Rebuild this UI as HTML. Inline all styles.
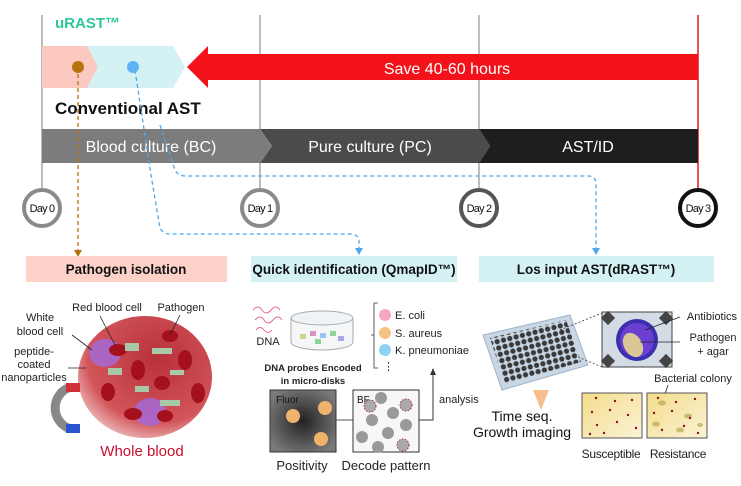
<!DOCTYPE html>
<html><head><meta charset="utf-8"><style>
html,body{margin:0;padding:0;background:#fff}
svg{display:block;font-family:"Liberation Sans","Noto Sans CJK KR",sans-serif}
</style></head><body>
<svg width="741" height="486" viewBox="0 0 741 486" xmlns="http://www.w3.org/2000/svg">
<defs>
<radialGradient id="blood" cx="0.6" cy="0.35" r="0.75"><stop offset="0" stop-color="#b8303a"/><stop offset="0.7" stop-color="#d2555a"/><stop offset="1" stop-color="#f4d6d4"/></radialGradient>
<radialGradient id="fluor" cx="0.5" cy="0.5" r="0.6"><stop offset="0" stop-color="#222"/><stop offset="1" stop-color="#7a7a7a"/></radialGradient>
<linearGradient id="agar" x1="0" y1="0" x2="1" y2="1"><stop offset="0" stop-color="#f3dc8a"/><stop offset="1" stop-color="#fbf3d6"/></linearGradient>
<pattern id="wells" width="6.5" height="6.5" patternUnits="userSpaceOnUse" patternTransform="rotate(-14)"><rect width="6.5" height="6.5" fill="#c9d6e4"/><circle cx="3.25" cy="3.25" r="2.6" fill="#3a3a3a"/></pattern>
</defs>
<g stroke="#999" stroke-width="1.3">
<line x1="42" y1="15" x2="42" y2="188"/><line x1="260" y1="15" x2="260" y2="188"/><line x1="479" y1="15" x2="479" y2="188"/>
</g>
<line x1="698" y1="15" x2="698" y2="188" stroke="#e8141c" stroke-width="1.5"/>
<text x="55" y="28" font-size="15" font-weight="bold" fill="#2cc79a">uRAST™</text>
<polygon points="42,46 87,46 98,67 87,88 42,88" fill="#fcc9c0"/>
<polygon points="87,46 173,46 185,67 173,88 87,88 98,67" fill="#d4f1f4"/>
<polygon points="187,67 208,46 208,54 698,54 698,80 208,80 208,88" fill="#f3121a"/>
<text x="447" y="74" font-size="16" fill="#fff" text-anchor="middle">Save 40-60 hours</text>
<text x="55" y="114" font-size="17" font-weight="bold" fill="#111">Conventional AST</text>
<polygon points="479,129 698,129 698,163 479,163 490,146" fill="#1e1e1e"/>
<polygon points="260,129 479,129 490,146 479,163 260,163 272,146" fill="#4b4b4b"/>
<polygon points="42,129 260,129 272,146 260,163 42,163" fill="#7c7c7c"/>
<text x="151" y="152" font-size="16" fill="#fff" text-anchor="middle">Blood culture (BC)</text>
<text x="370" y="152" font-size="16" fill="#fff" text-anchor="middle">Pure culture (PC)</text>
<text x="588" y="152" font-size="16" fill="#fff" text-anchor="middle">AST/ID</text>
<g fill="none" stroke-dasharray="4,3" stroke-width="1.3">
<path d="M78,67 V253" stroke="#b5720f"/>
<path d="M135,70 L151,175 L160,228 Q163,234 170,234 H350 Q358,234 359,240 V250" stroke="#4ea7ea"/>
<path d="M160,125 L175,170 Q178,176 186,176 H588 Q595,176 596,182 V250" stroke="#4ea7ea"/>
</g>
<polygon points="74,250 82,250 78,257" fill="#b5720f"/>
<polygon points="355,248 363,248 359,255" fill="#4ea7ea"/>
<polygon points="592,248 600,248 596,255" fill="#4ea7ea"/>
<circle cx="78" cy="67" r="6" fill="#b5720f"/>
<circle cx="133" cy="67" r="6" fill="#5fb3f5"/>
<g font-size="11" text-anchor="middle" fill="#111">
<circle cx="42" cy="208" r="18" fill="#fff" stroke="#8a8a8a" stroke-width="4"/><text x="42" y="212" letter-spacing="-0.8">Day 0</text>
<circle cx="260" cy="208" r="18" fill="#fff" stroke="#8a8a8a" stroke-width="4"/><text x="260" y="212" letter-spacing="-0.8">Day 1</text>
<circle cx="479" cy="208" r="18" fill="#fff" stroke="#555" stroke-width="4"/><text x="479" y="212" letter-spacing="-0.8">Day 2</text>
<circle cx="698" cy="208" r="18" fill="#fff" stroke="#111" stroke-width="4"/><text x="698" y="212" letter-spacing="-0.8">Day 3</text>
</g>
<rect x="26" y="256" width="201" height="26" fill="#fdd1c7"/>
<rect x="251" y="256" width="206" height="26" fill="#d4f1f4"/>
<rect x="479" y="256" width="235" height="26" fill="#d4f1f4"/>
<g font-size="13.5" font-weight="bold" fill="#111" text-anchor="middle">
<text x="126" y="274">Pathogen isolation</text>
<text x="354" y="274">Quick identification (QmapID™)</text>
<text x="596" y="274">Los input AST(dRAST™)</text>
</g>
<ellipse cx="145" cy="377" rx="67" ry="61" fill="url(#blood)"/>
<ellipse cx="105" cy="353" rx="16" ry="14" fill="#a46ad6" opacity="0.85"/>
<ellipse cx="150" cy="412" rx="16" ry="14" fill="#a46ad6" opacity="0.85"/>
<g fill="#a5101d">
<ellipse cx="118" cy="350" rx="9" ry="6"/><ellipse cx="170" cy="336" rx="8" ry="6"/><ellipse cx="185" cy="360" rx="7" ry="10"/>
<ellipse cx="138" cy="370" rx="7" ry="10"/><ellipse cx="162" cy="383" rx="8" ry="7"/><ellipse cx="108" cy="392" rx="7" ry="9"/>
<ellipse cx="198" cy="393" rx="7" ry="10"/><ellipse cx="133" cy="414" rx="9" ry="6"/><ellipse cx="165" cy="416" rx="8" ry="6"/>
</g>
<g fill="#a8c9a8"><rect x="125" y="343" width="14" height="8"/><rect x="152" y="348" width="20" height="6"/><rect x="108" y="368" width="14" height="7"/><rect x="135" y="386" width="14" height="6"/><rect x="170" y="370" width="14" height="5"/><rect x="160" y="400" width="20" height="6"/></g>
<path d="M68,388 a22,22 0 0 0 0,40" fill="none" stroke="#888" stroke-width="9"/>
<rect x="66" y="383" width="14" height="9" fill="#d0303a"/><rect x="66" y="424" width="14" height="9" fill="#2b55d0"/>
<g font-size="11" fill="#222" text-anchor="middle">
<text x="107" y="311">Red blood cell</text><text x="181" y="311">Pathogen</text>
<text x="40" y="321">White</text><text x="40" y="335">blood cell</text>
<text x="34" y="355">peptide-</text><text x="34" y="368">coated</text><text x="34" y="381">nanoparticles</text>
</g>
<g stroke="#222" stroke-width="0.8"><line x1="72" y1="335" x2="92" y2="350"/><line x1="100" y1="316" x2="115" y2="345"/><line x1="180" y1="315" x2="170" y2="335"/><line x1="68" y1="368" x2="86" y2="368"/></g>
<text x="142" y="456" font-size="15" fill="#c8102e" text-anchor="middle">Whole blood</text>
<path d="M253,310 q5,-6 9,0 t9,0 t9,0 M255,320 q5,-6 9,0 t9,0 t9,0 M256,330 q4,-5 8,0 t8,0" fill="none" stroke="#e86a8a" stroke-width="1"/>
<text x="268" y="345" font-size="11" fill="#222" text-anchor="middle">DNA</text>
<path d="M291,318 V342 A31,8 0 0 0 353,342 V318" fill="#f4f6f8" stroke="#aaa"/>
<ellipse cx="322" cy="318" rx="31" ry="7" fill="#eef3f6" stroke="#aaa"/>
<g><rect x="300" y="334" width="6" height="5" fill="#c7d88c"/><rect x="310" y="331" width="6" height="5" fill="#d691c5"/><rect x="320" y="333" width="6" height="5" fill="#9ec5ee"/><rect x="330" y="331" width="6" height="5" fill="#8ed49c"/><rect x="338" y="336" width="6" height="5" fill="#a6a6e8"/><rect x="315" y="339" width="6" height="5" fill="#8ed49c"/></g>
<text x="313" y="371" font-size="9.5" font-weight="bold" fill="#222" text-anchor="middle">DNA probes Encoded</text>
<text x="313" y="384" font-size="9.5" font-weight="bold" fill="#222" text-anchor="middle">in micro-disks</text>
<path d="M378,303 h-4 V368 h4 M374,335 h-3" fill="none" stroke="#333" stroke-width="0.8"/>
<circle cx="385" cy="315" r="6" fill="#f5a7bd"/><circle cx="385" cy="333" r="6" fill="#f5c27f"/><circle cx="385" cy="350" r="6" fill="#8fd3f2"/>
<g font-size="11" fill="#222"><text x="395" y="319">E. coli</text><text x="395" y="337">S. aureus</text><text x="395" y="354">K. pneumoniae</text><text x="383" y="370">⋮</text></g>
<rect x="270" y="390" width="66" height="62" fill="url(#fluor)" stroke="#333"/>
<text x="276" y="403" font-size="10" fill="#111">Fluor</text>
<circle cx="293" cy="416" r="7" fill="#efb36c"/><circle cx="325" cy="408" r="7" fill="#efb36c"/><circle cx="321" cy="439" r="7" fill="#efb36c"/>
<line x1="336" y1="420" x2="353" y2="420" stroke="#555"/>
<rect x="353" y="390" width="66" height="62" fill="#f7f7f7" stroke="#333"/>
<text x="357" y="403" font-size="10" fill="#111">BF</text>
<g fill="#999"><circle cx="381" cy="398" r="6"/><circle cx="393" cy="413" r="6"/><circle cx="372" cy="420" r="6"/><circle cx="388" cy="433" r="6"/><circle cx="406" cy="425" r="6"/><circle cx="362" cy="437" r="6"/><circle cx="378" cy="447" r="6"/></g>
<g fill="#aaa" stroke="#a03040" stroke-dasharray="1.5,1.5"><circle cx="406" cy="405" r="6"/><circle cx="370" cy="406" r="6"/><circle cx="403" cy="445" r="6"/></g>
<path d="M419,420 H433 V374" fill="none" stroke="#333"/><polygon points="430,375 436,375 433,368" fill="#333"/>
<text x="439" y="403" font-size="11" fill="#222">analysis</text>
<text x="302" y="470" font-size="13" fill="#222" text-anchor="middle">Positivity</text>
<text x="386" y="470" font-size="13" fill="#222" text-anchor="middle">Decode pattern</text>
<polygon points="483,335 570,315 588,365 502,390" fill="#c9d6e4" stroke="#9fb3c8"/>
<polygon points="490,338 566,320 581,362 505,384" fill="url(#wells)"/>
<polygon points="533,390 549,390 541,410" fill="#f7a35c" opacity="0.7"/>
<g stroke="#333" stroke-dasharray="2,2" stroke-width="0.7"><line x1="560" y1="330" x2="602" y2="313"/><line x1="578" y1="357" x2="602" y2="367"/></g>
<rect x="602" y="312" width="70" height="55" fill="#d3dbe5" stroke="#444"/>
<g fill="#444"><rect x="603" y="313" width="10" height="10" transform="rotate(45 608 318)"/><rect x="661" y="313" width="10" height="10" transform="rotate(45 666 318)"/><rect x="603" y="356" width="10" height="10" transform="rotate(45 608 361)"/><rect x="661" y="356" width="10" height="10" transform="rotate(45 666 361)"/></g>
<circle cx="637" cy="340" r="21" fill="#3b2fb0"/><circle cx="637" cy="340" r="17" fill="#6a3fd1"/>
<ellipse cx="633" cy="345" rx="9" ry="13" fill="#d9c895" transform="rotate(-30 633 345)"/>
<g stroke="#222" stroke-width="0.8"><line x1="645" y1="330" x2="680" y2="317"/><line x1="640" y1="342" x2="680" y2="342"/></g>
<g font-size="11" fill="#222" text-anchor="middle"><text x="712" y="320">Antibiotics</text><text x="713" y="341">Pathogen</text><text x="713" y="355">+ agar</text><text x="693" y="382">Bacterial colony</text></g>
<line x1="668" y1="385" x2="663" y2="400" stroke="#222" stroke-width="0.8"/>
<rect x="582" y="393" width="60" height="45" fill="url(#agar)" stroke="#555"/>
<rect x="647" y="393" width="60" height="45" fill="url(#agar)" stroke="#555"/>
<g fill="#8a1020"><circle cx="596" cy="398" r="1.2"/><circle cx="615" cy="401" r="1.2"/><circle cx="632" cy="400" r="1.2"/><circle cx="592" cy="412" r="1.2"/><circle cx="610" cy="410" r="1.2"/><circle cx="628" cy="415" r="1.2"/><circle cx="597" cy="425" r="1.2"/><circle cx="617" cy="422" r="1.2"/><circle cx="636" cy="428" r="1.2"/><circle cx="590" cy="434" r="1.2"/><circle cx="604" cy="433" r="1.2"/></g>
<g fill="#b9a94e" opacity="0.7"><ellipse cx="662" cy="403" rx="4" ry="2.5"/><ellipse cx="688" cy="416" rx="4" ry="2.5"/><ellipse cx="656" cy="424" rx="4" ry="2.5"/><ellipse cx="680" cy="430" rx="4" ry="2.5"/><ellipse cx="700" cy="425" rx="3" ry="2"/></g>
<g fill="#8a1020"><circle cx="658" cy="398" r="1.2"/><circle cx="676" cy="402" r="1.2"/><circle cx="695" cy="399" r="1.2"/><circle cx="654" cy="413" r="1.2"/><circle cx="672" cy="411" r="1.2"/><circle cx="690" cy="418" r="1.2"/><circle cx="662" cy="430" r="1.2"/><circle cx="684" cy="426" r="1.2"/><circle cx="698" cy="433" r="1.2"/></g>
<g font-size="12" fill="#222" text-anchor="middle" letter-spacing="-0.3"><text x="611" y="458">Susceptible</text><text x="678" y="458">Resistance</text></g>
<g font-size="14" fill="#111" text-anchor="middle"><text x="522" y="421">Time seq.</text><text x="522" y="437">Growth imaging</text></g>
</svg>
</body></html>
